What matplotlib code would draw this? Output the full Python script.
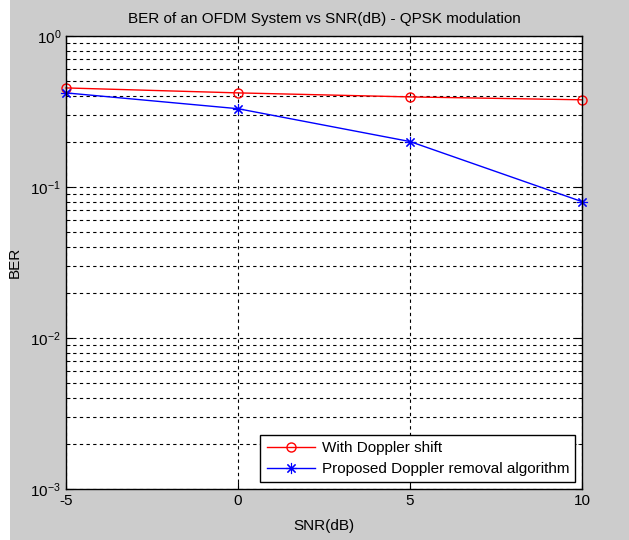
import matplotlib.pyplot as plt
from matplotlib.patches import Rectangle
from matplotlib.ticker import LogLocator, NullFormatter

snr = [-5, 0, 5, 10]
ber_doppler = [0.453, 0.42, 0.395, 0.378]
ber_removal = [0.42, 0.33, 0.20, 0.080]

plt.rcParams["font.family"] = ["Liberation Sans", "DejaVu Sans"]
plt.rcParams["font.size"] = 10.5
plt.rcParams["mathtext.default"] = "regular"
plt.rcParams["axes.unicode_minus"] = False

fig = plt.figure(figsize=(6.29, 5.4), dpi=100, facecolor="#cccccc")
# thin white strip on the left edge of the screenshot
fig.patches.append(Rectangle((0, 0), 10 / 629, 1, transform=fig.transFigure,
                             facecolor="white", edgecolor="none", zorder=-1))

ax = fig.add_axes([66 / 629, 1 - 489 / 540, (582 - 66) / 629, (489 - 36) / 540])
ax.set_facecolor("white")

ax.plot(snr, ber_doppler, color="#ff0000", lw=1, marker="o", ms=6.5,
        mfc="none", mec="#ff0000", label="With Doppler shift", clip_on=False)
ax.plot(snr, ber_removal, color="#0000ff", lw=1, marker=(8, 2, 0), ms=8,
        mew=0.8, label="Proposed Doppler removal algorithm", clip_on=False)

ax.set_yscale("log")
ax.set_xlim(-5, 10)
ax.set_ylim(1e-3, 1)
ax.set_xticks(snr)
ax.yaxis.set_major_locator(LogLocator(base=10))
ax.yaxis.set_minor_locator(LogLocator(base=10, subs=range(2, 10)))
ax.yaxis.set_minor_formatter(NullFormatter())

ax.grid(True, which="major", axis="both", color="black", ls=(0, (3, 3)), lw=0.8)
ax.grid(True, which="minor", axis="y", color="black", ls=(0, (3, 3)), lw=0.8)

ax.tick_params(which="both", direction="in", top=True, right=True, colors="black")
ax.tick_params(which="major", length=5, labelsize=11)
ax.tick_params(which="minor", length=3)
for s in ax.spines.values():
    s.set_color("black")
    s.set_linewidth(1)

ax.set_title("BER of an OFDM System vs SNR(dB) - QPSK modulation", fontsize=11, pad=9)
ax.set_xlabel("SNR(dB)", fontsize=11, labelpad=8)
ax.set_ylabel("BER", fontsize=11, labelpad=6)

leg = ax.legend(loc="lower right", fancybox=False, edgecolor="black",
                framealpha=1, fontsize=11, borderaxespad=0.45,
                handlelength=3.2, handletextpad=0.4, labelspacing=0.45)
leg.get_frame().set_linewidth(1)

fig.savefig("out.png", dpi=100, facecolor=fig.get_facecolor())
